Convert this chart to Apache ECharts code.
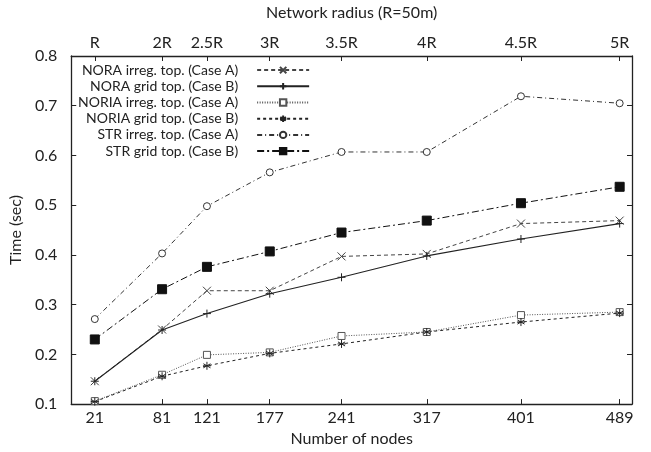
<!DOCTYPE html>
<html>
<head>
<meta charset="utf-8">
<script src="https://cdn.jsdelivr.net/npm/echarts@6/dist/echarts.min.js"></script>
<style>
  html, body { margin: 0; padding: 0; background: #fff; }
  #chart { width: 651px; height: 452px; }
</style>
</head>
<body>
<div id="chart"></div>
<script>
// x positions (number of nodes) and matching network radius labels
const nodes = [21, 81, 121, 177, 241, 317, 401, 489]
const radiusLabels = ['R', '2R', '2.5R', '3R', '3.5R', '4R', '4.5R', '5R']

// time (sec) per series
const noraIrreg = [0.146, 0.250, 0.328, 0.328, 0.397, 0.402, 0.463, 0.469]
const noraGrid = [0.146, 0.249, 0.282, 0.322, 0.355, 0.398, 0.432, 0.463]
const noriaIrreg = [0.106, 0.159, 0.199, 0.204, 0.237, 0.245, 0.279, 0.285]
const noriaGrid = [0.105, 0.156, 0.177, 0.202, 0.221, 0.245, 0.265, 0.283]
const strIrreg = [0.271, 0.403, 0.498, 0.566, 0.607, 0.607, 0.719, 0.705]
const strGrid = [0.230, 0.331, 0.376, 0.407, 0.445, 0.469, 0.504, 0.537]

const FONT = 'Lato'

const CROSS = 'path://M-4,-4L4,4M-4,4L4,-4'
const PLUS = 'path://M-4,0L4,0M0,-4L0,4'
const STAR = 'path://M0,-4.5L0,4.5M-4,-2.3L4,2.3M-4,2.3L4,-2.3M-4.5,0L4.5,0'

const pairs = (vals) => vals.map((v, i) => [nodes[i], v])

const makeSeries = (name, vals, symbol, size, color, dash, lw, fill) => ({
  name,
  type: 'line',
  data: pairs(vals),
  symbol,
  symbolSize: size,
  showSymbol: true,
  animation: false,
  lineStyle: { color, width: lw, type: dash },
  itemStyle: {
    color: fill,
    borderColor: color,
    borderWidth: 1,
  },
  emphasis: { disabled: true },
})

const chart = echarts.init(document.getElementById('chart'), null, { renderer: 'canvas' })

const tickStyle = { inside: true, length: 5, lineStyle: { color: '#222', width: 1 } }
const lineStyle = { show: true, onZero: false, lineStyle: { color: '#222', width: 1.3 } }

chart.setOption({
  backgroundColor: '#fff',
  textStyle: { fontFamily: FONT },
  grid: { left: 70, right: 19, top: 49, bottom: 42, containLabel: false },
  legend: {
    orient: 'vertical',
    align: 'right',
    left: 73,
    top: 57,
    itemWidth: 52,
    itemHeight: 8,
    itemGap: 0,
    textStyle: {
      fontFamily: FONT,
      fontSize: 14,
      lineHeight: 16.2,
      color: '#222',
      padding: [0, 14, 0, 0],
    },
    data: [
      'NORA irreg. top. (Case A)',
      'NORA grid top. (Case B)',
      'NORIA irreg. top. (Case A)',
      'NORIA grid top. (Case B)',
      'STR irreg. top. (Case A)',
      'STR grid top. (Case B)',
    ],
  },
  xAxis: [
    {
      type: 'value',
      position: 'bottom',
      min: 0,
      max: 500,
      name: 'Number of nodes',
      nameLocation: 'middle',
      nameGap: 25,
      nameTextStyle: { fontFamily: FONT, fontSize: 16, color: '#222' },
      axisLine: lineStyle,
      axisTick: { ...tickStyle, customValues: nodes },
      axisLabel: { customValues: nodes, fontFamily: FONT, fontSize: 16, color: '#222', margin: 6 },
      splitLine: { show: false },
    },
    {
      type: 'value',
      position: 'top',
      min: 0,
      max: 500,
      name: 'Network radius (R=50m)',
      nameLocation: 'middle',
      nameGap: 35,
      nameTextStyle: { fontFamily: FONT, fontSize: 16, color: '#222' },
      axisLine: lineStyle,
      axisTick: { ...tickStyle, customValues: nodes },
      axisLabel: {
        customValues: nodes,
        formatter: (v) => radiusLabels[nodes.indexOf(v)] || '',
        fontFamily: FONT,
        fontSize: 16,
        color: '#222',
        margin: 5,
      },
      splitLine: { show: false },
    },
  ],
  yAxis: [
    {
      type: 'value',
      position: 'left',
      min: 0.1,
      max: 0.8,
      interval: 0.1,
      name: 'Time (sec)',
      nameLocation: 'middle',
      nameGap: 42,
      nameTextStyle: { fontFamily: FONT, fontSize: 16, color: '#222' },
      axisLine: lineStyle,
      axisTick: tickStyle,
      axisLabel: {
        formatter: (v) => v.toFixed(1),
        fontFamily: FONT,
        fontSize: 16,
        color: '#222',
        margin: 14,
      },
      splitLine: { show: false },
    },
    {
      type: 'value',
      position: 'right',
      min: 0.1,
      max: 0.8,
      interval: 0.1,
      axisLine: lineStyle,
      axisTick: tickStyle,
      axisLabel: { show: false },
      splitLine: { show: false },
    },
  ],
  series: [
    makeSeries('NORA irreg. top. (Case A)', noraIrreg, CROSS, 8, '#444', [4, 3], 1, 'none'),
    makeSeries('NORA grid top. (Case B)', noraGrid, PLUS, 8, '#222', 'solid', 1.1, 'none'),
    makeSeries('NORIA irreg. top. (Case A)', noriaIrreg, 'rect', 7, '#555', [1, 1.5], 1, '#fff'),
    makeSeries('NORIA grid top. (Case B)', noriaGrid, STAR, 8, '#222', [3, 3], 1, 'none'),
    makeSeries('STR irreg. top. (Case A)', strIrreg, 'circle', 7, '#333', [5, 3, 1, 3], 1, '#fff'),
    makeSeries('STR grid top. (Case B)', strGrid, 'rect', 9, '#111', [7, 3, 2, 3], 1, '#111'),
  ],
})
</script>
</body>
</html>
